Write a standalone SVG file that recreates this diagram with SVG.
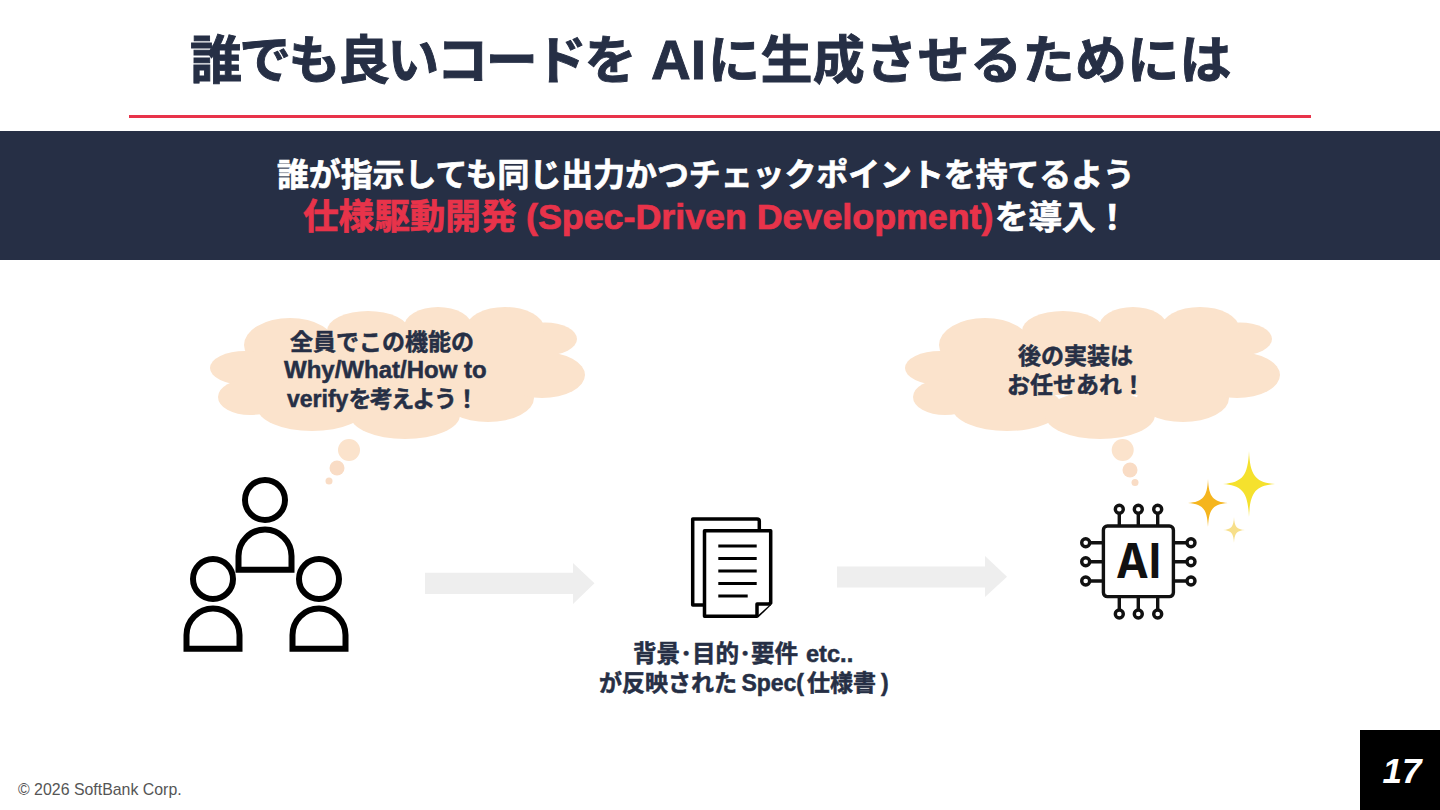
<svg xmlns="http://www.w3.org/2000/svg" width="1440" height="810" viewBox="0 0 1440 810" xml:lang="ja">
<style>
text{font-family:"Liberation Sans","Noto Sans CJK JP",sans-serif;font-weight:700;fill:#262f45}
.title{font-size:52px;stroke:#262f45;stroke-width:.9px}
.band{font-size:32px;fill:#fff;stroke:#fff;stroke-width:.7px}
.red{fill:#e8334a;stroke:#e8334a}
.lab{font-size:23px;stroke:#262f45;stroke-width:.5px}
.ic{fill:none;stroke:#000;stroke-width:6}
.doc{fill:#fff;stroke:#000;stroke-width:3.5;stroke-linejoin:round}
.ln{stroke:#000;stroke-width:3;fill:none}
.chip{fill:none;stroke:#111;stroke-width:3.4}
.puff{fill:#fbe3cc}
.dot{fill:#f9dcc5}
.arrow{fill:#eeeeee}
</style>
<defs>
<g id="cloud" class="puff">
<ellipse cx="985" cy="345" rx="46" ry="27"/>
<ellipse cx="940" cy="368" rx="35" ry="17"/>
<ellipse cx="945" cy="397" rx="32" ry="18"/>
<ellipse cx="1007" cy="407" rx="55" ry="24"/>
<ellipse cx="1100" cy="415" rx="55" ry="24"/>
<ellipse cx="1183" cy="398" rx="46" ry="24"/>
<ellipse cx="1237" cy="375" rx="43" ry="23"/>
<ellipse cx="1240" cy="339" rx="32" ry="16.5"/>
<ellipse cx="1200" cy="328" rx="39" ry="21"/>
<ellipse cx="1133" cy="327" rx="34" ry="20"/>
<ellipse cx="1063" cy="331" rx="41" ry="20"/>
<rect x="960" y="335" width="290" height="60"/>
</g>
<g id="person" class="ic">
<circle cx="0" cy="0" r="20"/>
<path d="M-26.5 69.7V56A26.5 26.5 0 0 1 26.5 56V69.7Z"/>
</g>
<path id="star" d="M0-1C.04-.25.25-.05 1 0 .25.05.04.25 0 1-.04.25-.25.05-1 0-.25-.05-.04-.25 0-1Z"/>
</defs>

<g id="header">
<text class="title" x="190" y="79"><tspan letter-spacing="-2.7">誰でも良いコードを</tspan> <tspan x="651" font-size="55">AI</tspan><tspan x="708" letter-spacing=".4">に生成させるためには</tspan></text>
<rect x="129" y="115" width="1182" height="3" fill="#e8334a"/>
</g>
<g id="banner">
<rect x="0" y="131" width="1440" height="129" fill="#262f45"/>
<text class="band" x="277" y="186" textLength="858" lengthAdjust="spacingAndGlyphs">誰が指示しても同じ出力かつチェックポイントを持てるよう</text>
<text class="band" x="303" y="229"><tspan class="red" font-size="35.6">仕様駆動開発 </tspan><tspan class="red" x="526" font-size="35.8">(Spec-Driven Development)</tspan><tspan x="995" font-size="33.5">を導入！</tspan></text>
</g>

<g id="cloud-left">
<use href="#cloud" x="-695"/>
<circle class="puff" cx="349" cy="450" r="11"/>
<circle class="dot" cx="337" cy="468" r="7.5"/>
<circle class="dot" cx="329" cy="481" r="3.5"/>
<text class="lab" x="290" y="350">全員でこの機能の</text>
<text class="lab" x="284" y="378" font-size="24" style="font-size:24px">Why/What/How to</text>
<text class="lab" x="287" y="407">verify<tspan letter-spacing="-1.6">を考えよう！</tspan></text>
</g>
<g id="cloud-right">
<use href="#cloud"/>
<circle class="puff" cx="1122.7" cy="450" r="11"/>
<circle class="dot" cx="1130" cy="470" r="7.5"/>
<circle class="dot" cx="1135" cy="482.5" r="3.5"/>
<text class="lab" x="1018" y="364">後の実装は</text>
<text class="lab" x="1007" y="393">お任せあれ！</text>
</g>

<g id="people">
<use href="#person" x="265" y="500"/>
<use href="#person" x="213" y="579"/>
<use href="#person" x="319" y="579"/>
</g>

<g id="spec">
<path class="doc" d="M704 605H692.7V519H757Q759.3 519 759.3 521V531"/>
<path class="doc" d="M704.5 530.7H770.7V603L757 616.3H704.5Z"/>
<path class="doc" d="M757 616.3V604H770.7"/>
<path class="ln" d="M718.3 546H756.7M718.3 558.5H756.7M718.3 571H756.7M718.3 583.5H756.7M718.3 596H747.7"/>
<text class="lab" x="633" y="662" style="font-size:23.6px">背景･目的･要件 <tspan x="806">etc..</tspan></text>
<text class="lab" x="599" y="691">が反映された <tspan dx="-2">Spec(</tspan><tspan dx="3">仕様書</tspan><tspan dx="5">)</tspan></text>
</g>

<g id="ai">
<rect class="chip" x="1103.4" y="526" width="70" height="70.6" rx="4"/>
<g class="chip">
<circle cx="1119.3" cy="509.3" r="4"/><circle cx="1138.3" cy="509.3" r="4"/><circle cx="1157.7" cy="509.3" r="4"/>
<circle cx="1119.3" cy="614" r="4"/><circle cx="1138.3" cy="614" r="4"/><circle cx="1157.7" cy="614" r="4"/>
<circle cx="1085.7" cy="542.7" r="4"/><circle cx="1085.7" cy="561.7" r="4"/><circle cx="1085.7" cy="581" r="4"/>
<circle cx="1191" cy="542.7" r="4"/><circle cx="1191" cy="561.7" r="4"/><circle cx="1191" cy="581" r="4"/>
<path d="M1119.3 513.3V526M1138.3 513.3V526M1157.7 513.3V526M1119.3 596.6V610M1138.3 596.6V610M1157.7 596.6V610M1089.7 542.7H1103.4M1089.7 561.7H1103.4M1089.7 581H1103.4M1173.4 542.7H1187M1173.4 561.7H1187M1173.4 581H1187"/>
</g>
<text x="1116" y="578" font-size="48" textLength="45" lengthAdjust="spacingAndGlyphs" style="fill:#111;font-family:Inter,'Liberation Sans',sans-serif;font-weight:700">AI</text>
<use href="#star" transform="translate(1249 484) scale(26 33)" fill="#f5e12d"/>
<use href="#star" transform="translate(1208 503) scale(20 24)" fill="#f5b51e"/>
<use href="#star" transform="translate(1234 530) scale(11 13)" fill="#f7df8a"/>
</g>

<g id="connectors" class="arrow">
<path d="M425 572.7H573V563L594.5 583.3L573 604V594H425Z"/>
<path d="M837 566.5H985V556L1007 576.7L985 597V587.5H837Z"/>
</g>

<g id="footer">
<text x="18" y="795" font-size="15.9" style="fill:#555;font-weight:400">© 2026 SoftBank Corp.</text>
<rect x="1360" y="730" width="80" height="80" fill="#000"/>
<text x="1402" y="783" font-size="35" text-anchor="middle" font-style="italic" style="fill:#fff">17</text>
</g>
</svg>
